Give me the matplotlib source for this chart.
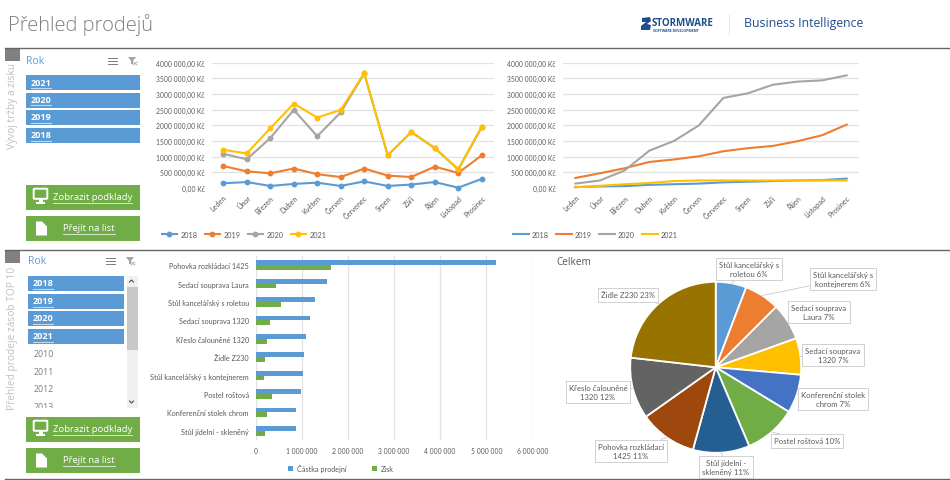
import matplotlib
matplotlib.use('Agg')
import matplotlib.pyplot as plt
import matplotlib.patches as mpatches
from matplotlib.ticker import FuncFormatter
import numpy as np

plt.rcParams['font.family'] = ['Lato', 'DejaVu Sans']

W, H = 950, 481
UI_FONT = ['Open Sans', 'DejaVu Sans']

months = ['Leden', 'Únor', 'Březen', 'Duben', 'Květen', 'Červen', 'Červenec', 'Srpen', 'Září', 'Říjen', 'Listopad', 'Prosinec']
years = ['2018', '2019', '2020', '2021']

# trzby po mesicich
month_2018 = [150000, 190000, 65000, 130000, 170000, 65000, 210000, 65000, 110000, 190000, 10000, 290000]
month_2019 = [700000, 530000, 470000, 620000, 440000, 350000, 620000, 395000, 350000, 680000, 480000, 1040000]
month_2020 = [1090000, 915000, 1590000, 2490000, 1650000, 2410000, 3650000, 1040000, 1780000, 1270000, 590000, 1940000]
month_2021 = [1220000, 1100000, 1900000, 2690000, 2245000, 2490000, 3660000, 1045000, 1790000, 1280000, 600000, 1950000]

# kumulativne
cum_2018 = [30000, 50000, 60000, 100000, 120000, 140000, 180000, 200000, 220000, 240000, 250000, 300000]
cum_2019 = [320000, 470000, 630000, 830000, 910000, 1010000, 1170000, 1270000, 1340000, 1490000, 1680000, 2020000]
cum_2020 = [140000, 240000, 560000, 1190000, 1500000, 1990000, 2870000, 3020000, 3290000, 3390000, 3430000, 3590000]
cum_2021 = [20000, 70000, 120000, 160000, 220000, 240000, 240000, 240000, 240000, 240000, 240000, 240000]

products = ['Pohovka rozkládací 1425', 'Sedací souprava Laura', 'Stůl kancelářský s roletou', 'Sedací souprava 1320',
            'Křeslo čalouněné 1320', 'Židle Z230', 'Stůl kancelářský s kontejnerem', 'Postel roštová',
            'Konferenční stolek chrom', 'Stůl jídelní - skleněný']
sales = [5220000, 1540000, 1280000, 1170000, 1090000, 1050000, 1020000, 990000, 870000, 870000]
profit = [1630000, 440000, 550000, 320000, 240000, 210000, 170000, 350000, 250000, 200000]

pie_labels = ['Stůl kancelářský s\nroletou 6%', 'Stůl kancelářský s\nkontejnerem 6%', 'Sedací souprava\nLaura 7%',
              'Sedací souprava\n1320 7%', 'Konferenční stolek\nchrom 7%', 'Postel roštová 10%', 'Stůl jídelní -\nskleněný 11%',
              'Pohovka rozkládací\n1425 11%', 'Křeslo čalouněné\n1320 12%', 'Židle Z230 23%']
pie_values = [5.8, 6.7, 7.0, 6.9, 7.3, 9.9, 10.7, 10.9, 11.6, 23.2]
pie_colors = ['#5B9BD5', '#ED7D31', '#A5A5A5', '#FFC000', '#4472C4', '#70AD47', '#255E91', '#9E480E', '#636363', '#997300']
pie_label_pos = [(749, 270), (843, 280), (819, 313), (833, 356), (833, 400), (807, 442), (726, 468), (631, 452), (598, 393), (628, 296)]

line_colors = ['#5B9BD5', '#ED7D31', '#A5A5A5', '#FFC000']
txt = '#595959'
blue = '#5B9BD5'
green = '#70AD47'
navy = '#1F4E8C'
CHART_FS = 5.2
NUM_FS = 4.9


def px_axes(x0, y0, x1, y1, **kw):
    return fig.add_axes([x0 / W, 1 - y1 / H, (x1 - x0) / W, (y1 - y0) / H], **kw)


def kc(v, pos):
    if v == 0:
        return '0,00 Kč'
    return '%d 000,00 Kč' % (v // 1000)


def line_chart(x0, x1, data, marker):
    ax = px_axes(x0, 63.5, x1, 189)
    for name, vals, c in zip(years, data, line_colors):
        ax.plot(range(12), vals, color=c, lw=1.5, marker=marker, ms=3.2, label=name, clip_on=False)
    ax.set_xlim(-0.5, 11.5)
    ax.set_ylim(0, 4000000)
    ax.set_yticks(range(0, 4000001, 500000))
    ax.yaxis.set_major_formatter(FuncFormatter(kc))
    ax.set_xticks(range(12))
    ax.set_xticklabels(months, rotation=45, ha='right', rotation_mode='anchor')
    ax.tick_params(length=0, labelsize=CHART_FS, labelcolor=txt, pad=4)
    ax.tick_params(axis='y', labelsize=NUM_FS, pad=5)
    ax.grid(axis='y', color='#E2E2E2', lw=0.9)
    ax.set_axisbelow(True)
    for s in ax.spines.values():
        s.set_visible(False)
    h, l = ax.get_legend_handles_labels()
    fig.legend(h, l, loc='center left', bbox_to_anchor=((x0 - 50) / W, 1 - 235.5 / H), ncol=4, frameon=False,
               fontsize=CHART_FS, labelcolor=txt, handlelength=2.2, handletextpad=0.4, columnspacing=1.0, borderpad=0, borderaxespad=0)
    return ax


fig = plt.figure(figsize=(W / 100, H / 100), dpi=100)

# podklad v pixelech
bg = fig.add_axes([0, 0, 1, 1], zorder=0)
bg.set_xlim(0, W)
bg.set_ylim(H, 0)
bg.axis('off')

bg.text(8, 31, 'Přehled prodejů', fontsize=14.5, color='#7F7F7F', va='baseline', fontweight='light', family=UI_FONT)

# logo
bg.add_patch(mpatches.Polygon([(642, 19), (650, 18), (651, 22), (647, 25), (651, 26), (650, 31), (641, 31), (641, 27), (646, 23), (642, 23)], color=navy, lw=0))
bg.text(652, 23, 'STORMWARE', fontsize=7, color=navy, fontweight='bold', va='center', ha='left', family=UI_FONT)
bg.text(653, 30.5, 'SOFTWARE DEVELOPMENT', fontsize=2.5, color=navy, fontweight='bold', va='center', ha='left', family=UI_FONT)
bg.plot([728.5, 728.5], [16, 35], color='#E6E6E6', lw=0.8)
bg.text(744, 24, 'Business Intelligence', fontsize=8.8, color=navy, va='center', ha='left', family=UI_FONT)

for y in [48.5, 250.5, 480]:
    bg.plot([5, W], [y, y], color='#666666', lw=1)
for y in [49, 251]:
    bg.add_patch(mpatches.Rectangle((5, y), 14.5, 13, color='#808080', lw=0))
bg.text(13, 149, 'Vývoj tržby a zisku', rotation=90, fontsize=7.3, color='#BFBFBF', ha='center', va='bottom', family=UI_FONT)
bg.text(13, 410, 'Přehled prodeje zásob TOP 10', rotation=90, fontsize=7.3, color='#BFBFBF', ha='center', va='bottom', family=UI_FONT)


def slicer_head(x, y, ix):
    bg.text(x, y, 'Rok', fontsize=7.5, color=blue, va='center', family=UI_FONT)
    for k in range(3):
        bg.plot([ix + 3, ix + 9], [y - 3 + k * 3] * 2, color='#606060', lw=0.6)
        bg.plot([ix, ix + 1.5], [y - 3 + k * 3] * 2, color='#606060', lw=0.6)
    fx = ix + 20
    bg.add_patch(mpatches.Polygon([(fx, y - 4), (fx + 8, y - 4), (fx + 5, y), (fx + 5, y + 3), (fx + 3, y + 3), (fx + 3, y)], color='#A6A6A6', lw=0))
    bg.plot([fx + 5, fx + 9], [y + 1, y + 4], color='#A6A6A6', lw=0.6)
    bg.plot([fx + 5, fx + 9], [y + 4, y + 1], color='#A6A6A6', lw=0.6)


def year_btn(x0, x1, y0, y1, s):
    bg.add_patch(mpatches.Rectangle((x0, y0), x1 - x0, y1 - y0, color=blue, lw=0))
    bg.text(x0 + 5, (y0 + y1) / 2 - 0.5, s, fontsize=6.6, color='white', fontweight='bold', va='center', family=UI_FONT)
    bg.plot([x0 + 5, x0 + 25], [y1 - 2.5, y1 - 2.5], color='#C5D9EE', lw=0.8)


def green_btn(y0, y1, s, tx, monitor):
    bg.add_patch(mpatches.Rectangle((26, y0), 113.5, y1 - y0, color=green, lw=0))
    t = bg.text(tx, (y0 + y1) / 2 - 0.5, s, fontsize=6.8, color='white', va='center', ha='center', family=UI_FONT)
    w = t.get_window_extent(fig.canvas.get_renderer()).width
    cy = (y0 + y1) / 2
    bg.plot([tx - w / 2, tx + w / 2], [cy + 5, cy + 5], color='white', lw=0.5)
    if monitor:
        bg.add_patch(mpatches.FancyBboxPatch((34.5, cy - 8), 12, 8.5, boxstyle='round,pad=0.8', fc=green, ec='white', lw=1.4))
        bg.add_patch(mpatches.Rectangle((38.5, cy + 1), 4, 3.5, color='white', lw=0))
        bg.add_patch(mpatches.Rectangle((36, cy + 4.5), 9, 1.5, color='white', lw=0))
    else:
        bg.add_patch(mpatches.Polygon([(36, cy - 7), (42, cy - 7), (47, cy - 2), (47, cy + 7), (36, cy + 7)], color='white', lw=0))


slicer_head(26, 62, 108)
for s, (a, b) in zip(['2021', '2020', '2019', '2018'], [(76, 91), (94, 108.5), (111, 126), (129, 144)]):
    year_btn(26, 139.5, a, b, s)
green_btn(186, 211, 'Zobrazit podklady', 92.5, True)
green_btn(217, 242, 'Přejít na list', 89, False)

slicer_head(28, 262, 106)
for s, (a, b) in zip(['2018', '2019', '2020', '2021'], [(277, 292), (295, 310), (312, 327), (330, 345)]):
    year_btn(28, 123.5, a, b, s)
for s, y in zip(['2010', '2011', '2012', '2013'], [355, 373, 390, 408]):
    bg.text(33.5, y, s, fontsize=6.4, color='#7F7F7F', va='center', family=UI_FONT)
bg.add_patch(mpatches.Rectangle((28, 408.5), 112, 9, color='white', lw=0, zorder=3))
bg.add_patch(mpatches.Rectangle((127, 276.5), 10.5, 132, color='#F0F0F0', lw=0))
bg.add_patch(mpatches.Rectangle((127, 288), 10.5, 63, color='#C8C8C8', lw=0))
bg.plot([129.5, 131.5, 133.5], [283, 281, 283], color='#505050', lw=0.8)
bg.plot([129.5, 131.5, 133.5], [402, 404, 402], color='#505050', lw=0.8)
green_btn(418, 443, 'Zobrazit podklady', 92.5, True)
green_btn(449, 474, 'Přejít na list', 89, False)

# spojnicove grafy
line_chart(211.5, 493.5, [month_2018, month_2019, month_2020, month_2021], 'o')
line_chart(563, 859, [cum_2018, cum_2019, cum_2020, cum_2021], None)

# pruhovy graf
ax = px_axes(255.7, 257, 532.4, 441)
y = np.arange(len(products))
ax.barh(y - 0.13, sales, height=0.26, color=blue, label='Částka prodejní')
ax.barh(y + 0.13, profit, height=0.26, color=green, label='Zisk')
ax.set_ylim(len(products) - 0.5, -0.5)
ax.set_xlim(0, 6000000)
ax.set_xticks(range(0, 6000001, 1000000))
ax.xaxis.set_major_formatter(FuncFormatter(lambda v, p: '0' if v == 0 else '%d 000 000' % (v / 1000000)))
ax.set_yticks(y)
ax.set_yticklabels(products)
ax.tick_params(length=0, labelsize=CHART_FS, labelcolor=txt, pad=5)
ax.tick_params(axis='x', labelsize=NUM_FS, pad=5)
ax.grid(axis='x', color='#E2E2E2', lw=0.9)
ax.set_axisbelow(True)
for s in ax.spines.values():
    s.set_visible(False)
h, l = ax.get_legend_handles_labels()
fig.legend(h, l, loc='center left', bbox_to_anchor=(288 / W, 1 - 469 / H), ncol=2, frameon=False, fontsize=CHART_FS, labelcolor=txt,
           handlelength=0.7, handleheight=0.6, handletextpad=0.5, columnspacing=3.6, borderpad=0, borderaxespad=0)

# kolacovy graf
bg.text(556.5, 262.5, 'Celkem', fontsize=7.2, color=txt, va='center', family=UI_FONT)
R = 85.5
cx, cy = 715.7, 368.3
pax = px_axes(cx - R, cy - R, cx + R, cy + R)
wedges, _ = pax.pie(pie_values, colors=pie_colors, startangle=90, counterclock=False, radius=1,
                    wedgeprops={'edgecolor': 'white', 'linewidth': 1.3})
pax.set_xlim(-1, 1)
pax.set_ylim(-1, 1)
for wd, lab, pos in zip(wedges, pie_labels, pie_label_pos):
    a = np.deg2rad((wd.theta1 + wd.theta2) / 2)
    pax.annotate(lab, xy=(np.cos(a), np.sin(a)), xycoords='data', xytext=pos, textcoords=bg.transData,
                 fontsize=5.6, color=txt, ha='center', va='center', linespacing=1.35, annotation_clip=False,
                 bbox=dict(boxstyle='square,pad=0.4', fc='white', ec='#D0D0D0', lw=0.7),
                 arrowprops=dict(arrowstyle='-', color='#C8C8C8', lw=0.6, shrinkA=0, shrinkB=0))

fig.savefig('out.png', dpi=100)
